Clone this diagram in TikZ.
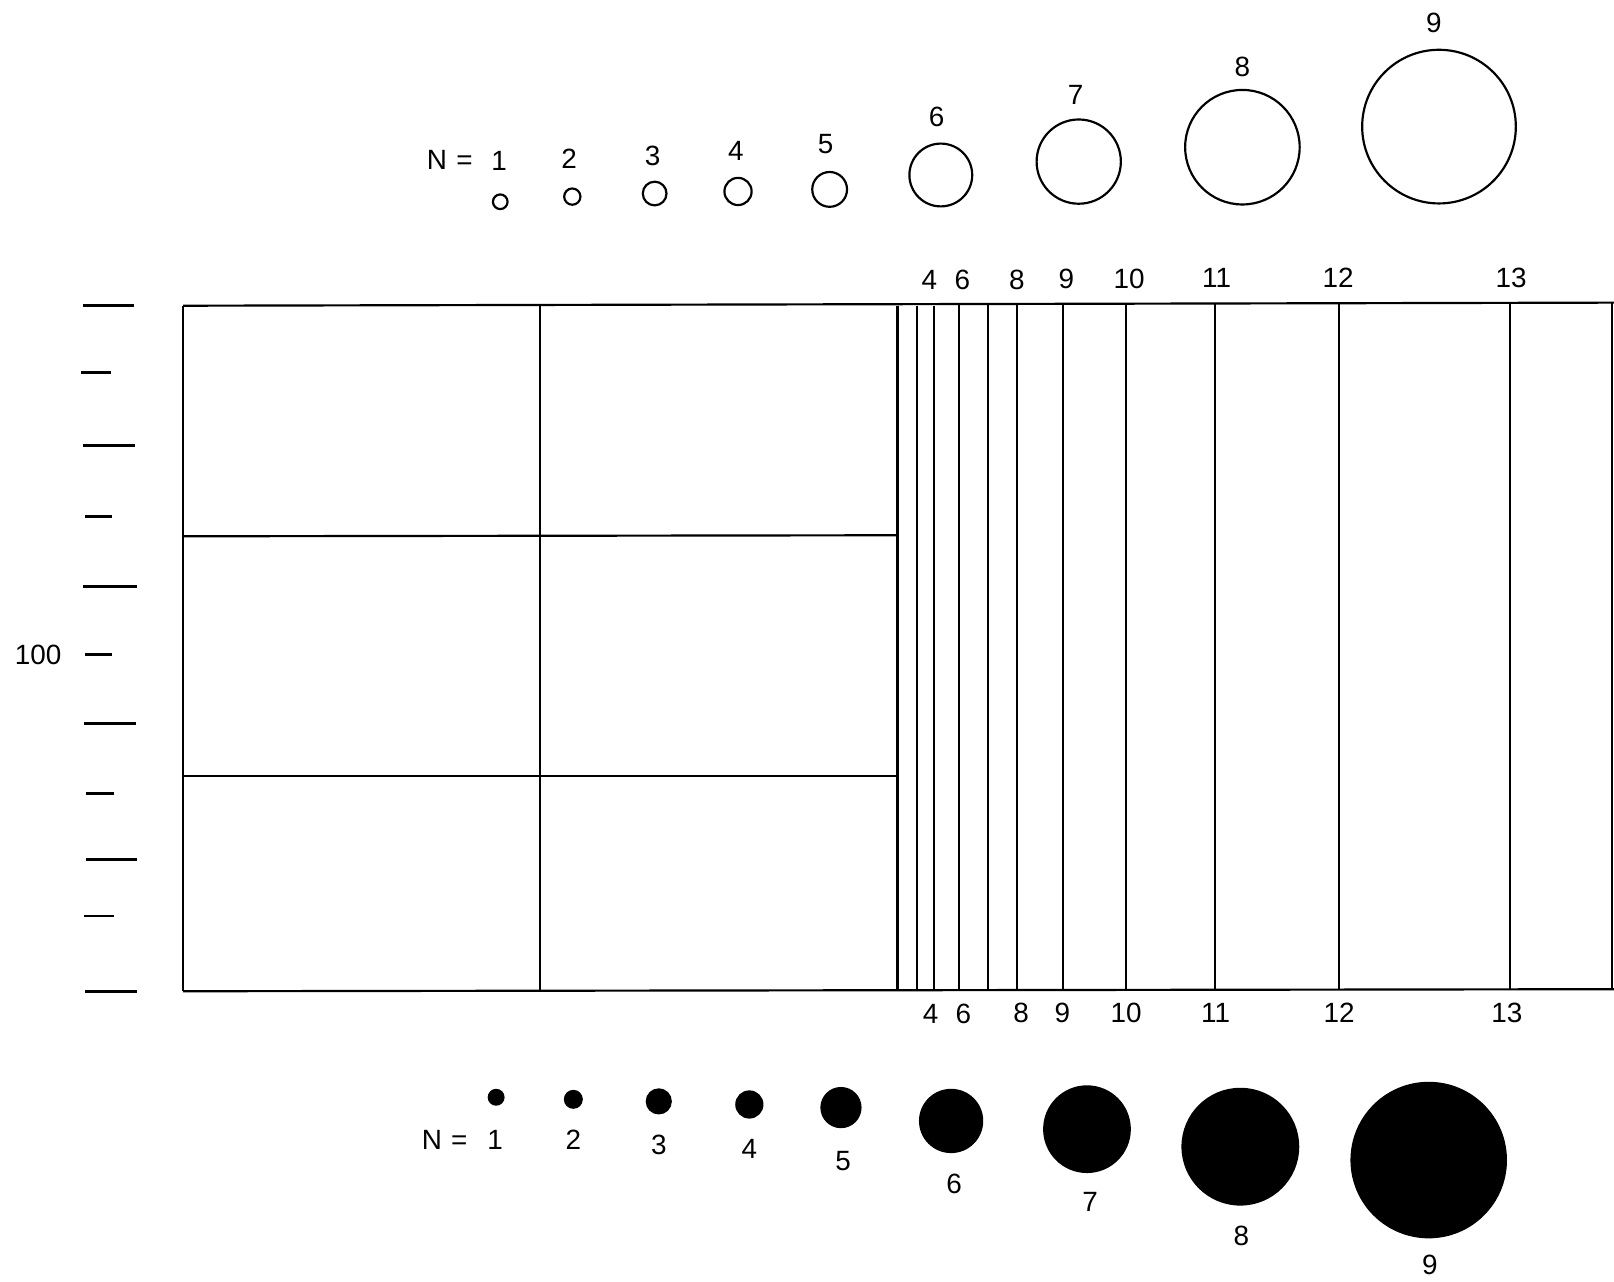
\documentclass[tikz,border=0pt]{standalone}
\usepackage{fontspec}
\setmainfont{Liberation Sans}
\usepackage{tikz}

\begin{document}
\begin{tikzpicture}[
    x=0.01cm, y=-0.01cm,
    ring/.style={draw=black, line width=0.6pt},
    blot/.style={fill=black, draw=black, line width=0.4pt},
    numlabel/.style={inner sep=0pt, font=\fontsize{7.7}{9}\selectfont},
    gridline/.style={draw=black, line width=0.6pt},
    tickmark/.style={draw=black, line width=0.75pt}
]
    \useasboundingbox (0,0) rectangle (1568,1245);

    % Open circles (top row)
    \node[numlabel] (topN) at (437,155) {N\,\,=};
    \node[numlabel] (t1) at (485,156) {1};
    \node[numlabel] (t2) at (553,154) {2};
    \node[numlabel] (t3) at (634,151) {3};
    \node[numlabel] (t4) at (715,147) {4};
    \node[numlabel] (t5) at (802,140) {5};
    \node[numlabel] (t6) at (910,114) {6};
    \node[numlabel] (t7) at (1045,92) {7};
    \node[numlabel] (t8) at (1207,65) {8};
    \node[numlabel] (t9) at (1393,22) {9};

    \draw[ring] (486,196) circle [radius=0.071cm];
    \draw[ring] (556,191) circle [radius=0.079cm];
    \draw[ring] (636,188) circle [radius=0.115cm];
    \draw[ring] (717,186) circle [radius=0.132cm];
    \draw[ring] (806,184) circle [radius=0.169cm];
    \draw[ring] (914,170) circle [radius=0.305cm];
    \draw[ring] (1048,157) circle [radius=0.409cm];
    \draw[ring] (1207,143) circle [radius=0.556cm];
    \draw[ring] (1398,123) circle [radius=0.746cm];

    % Scale marks on the left
    \draw[tickmark] (81,297) -- (130,297);
    \draw[tickmark] (79,362) -- (108,362);
    \draw[tickmark] (81,433) -- (131,433);
    \draw[tickmark] (83,502) -- (109,502);
    \draw[tickmark] (81,570) -- (133,570);
    \draw[tickmark] (83,636) -- (109,636);
    \draw[tickmark] (82,703) -- (132,703);
    \draw[tickmark] (84,771) -- (111,771);
    \draw[tickmark] (84,835) -- (133,835);
    \draw[tickmark] (82,890) -- (111,890);
    \draw[tickmark] (83,963) -- (133,963);
    \node[numlabel] (hundred) at (37,636) {100};

    % Frame and grid
    \draw[gridline] (178,297) -- (1568,294);
    \draw[gridline] (178,963) -- (1568,961);
    \draw[gridline] (178,297) -- (178,963);
    \draw[gridline] (178,521) -- (872,520);
    \draw[gridline] (178,754) -- (872,754);
    \draw[gridline] (525,297) -- (525,963);
    \draw[gridline] (872,297) -- (872,963);
    \draw[gridline] (891,297) -- (891,963);
    \draw[gridline] (907,297) -- (907,963);
    \draw[gridline] (932,296) -- (932,962);
    \draw[gridline] (960,296) -- (960,962);
    \draw[gridline] (988,296) -- (988,962);
    \draw[gridline] (1033,296) -- (1033,962);
    \draw[gridline] (1094,296) -- (1094,962);
    \draw[gridline] (1180,295) -- (1180,962);
    \draw[gridline] (1301,295) -- (1301,962);
    \draw[gridline] (1467,294) -- (1467,961);
    \draw[gridline] (1566,294) -- (1566,961);

    % Line numbers above and below
    \node[numlabel] (a4) at (903,272) {4};
    \node[numlabel] (a6) at (935,272) {6};
    \node[numlabel] (a8) at (988,272) {8};
    \node[numlabel] (a9) at (1036,271) {9};
    \node[numlabel] (a10) at (1097,271) {10};
    \node[numlabel] (a11) at (1182,270) {11};
    \node[numlabel] (a12) at (1300,270) {12};
    \node[numlabel] (a13) at (1468,270) {13};

    \node[numlabel] (b4) at (904,985) {4};
    \node[numlabel] (b6) at (936,985) {6};
    \node[numlabel] (b8) at (992,984) {8};
    \node[numlabel] (b9) at (1032,984) {9};
    \node[numlabel] (b10) at (1094,984) {10};
    \node[numlabel] (b11) at (1181,984) {11};
    \node[numlabel] (b12) at (1301,984) {12};
    \node[numlabel] (b13) at (1464,984) {13};

    % Filled dots (bottom row)
    \fill[blot] (482,1066) circle [radius=0.075cm];
    \fill[blot] (557,1068) circle [radius=0.085cm];
    \fill[blot] (640,1070) circle [radius=0.12cm];
    \fill[blot] (728,1073) circle [radius=0.13cm];
    \fill[blot] (817,1076) circle [radius=0.193cm];
    \fill[blot] (924,1089) circle [radius=0.305cm];
    \fill[blot] (1056,1097) circle [radius=0.419cm];
    \fill[blot] (1205,1114) circle [radius=0.565cm];
    \fill[blot] (1388,1127) circle [radius=0.753cm];

    \node[numlabel] (botN) at (432,1107) {N\,\,=};
    \node[numlabel] (d1) at (481,1107) {1};
    \node[numlabel] (d2) at (557,1107) {2};
    \node[numlabel] (d3) at (640,1112) {3};
    \node[numlabel] (d4) at (728,1116) {4};
    \node[numlabel] (d5) at (819,1128) {5};
    \node[numlabel] (d6) at (927,1150) {6};
    \node[numlabel] (d7) at (1059,1168) {7};
    \node[numlabel] (d8) at (1206,1201) {8};
    \node[numlabel] (d9) at (1389,1229) {9};
\end{tikzpicture}
\end{document}
